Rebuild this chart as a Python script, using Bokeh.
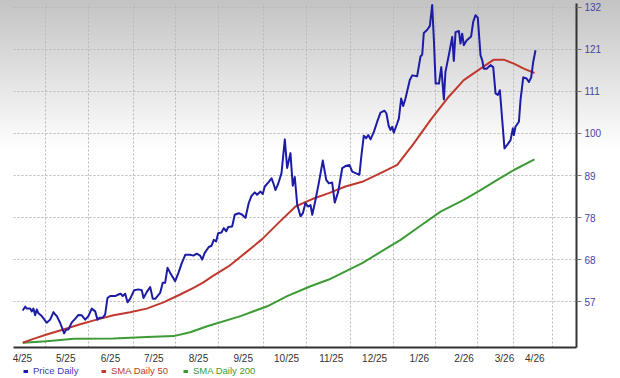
from bokeh.plotting import figure
from bokeh.models import Range1d, FixedTicker, Legend, LegendItem
from bokeh.layouts import column
from bokeh.embed import file_html
from bokeh.resources import INLINE

# ---- data (day offsets from 1 Apr 2025, price in USD) ----
x_tick_days = [0, 30, 61, 91, 122, 153, 183, 214, 244, 275, 306, 334, 355]
x_tick_labels = ["4/25", "5/25", "6/25", "7/25", "8/25", "9/25", "10/25",
                 "11/25", "12/25", "1/26", "2/26", "3/26", "4/26"]
x_grid_days = [16, 46, 77, 106, 136, 167, 197, 227, 257, 286, 315, 340, 367]
y_tick_values = [57.0, 67.7, 78.4, 89.1, 99.8, 110.5, 121.2, 131.9]
y_tick_labels = ["57", "68", "78", "89", "100", "111", "121", "132"]
legend_labels = ["Price Daily", "SMA Daily 50", "SMA Daily 200"]

price_days = [
    0.2, 1.9, 3.0, 5.3, 6.4, 7.6, 8.8, 9.9, 11.1, 13.4,
    16.8, 19.2, 21.5, 22.7, 23.8, 26.1, 28.9, 30.3, 31.9, 34.2,
    36.5, 38.8, 41.1, 43.5, 45.7, 48.0, 50.4, 52.0, 53.4, 55.6,
    57.3, 58.9, 60.8, 64.2, 66.5, 68.1, 69.5, 71.2, 72.8, 74.6,
    77.4, 80.4, 82.7, 83.9, 86.1, 88.5, 90.3, 92.0, 95.4, 97.2,
    98.9, 100.5, 102.4, 105.8, 108.1, 110.4, 112.8, 116.2, 118.5, 120.8,
    123.1, 124.5, 126.3, 129.1, 131.0, 132.6, 134.2, 135.6, 137.9, 139.5,
    141.2, 142.6, 145.3, 147.1, 149.9, 152.3, 154.5, 156.8, 158.7, 161.0,
    162.6, 164.9, 166.5, 167.9, 170.7, 172.6, 173.7, 175.3, 177.2, 179.5,
    181.8, 183.4, 185.7, 187.3, 188.7, 190.4, 192.7, 194.3, 196.1, 198.0,
    199.6, 200.8, 202.6, 205.3, 208.1, 210.5, 212.3, 214.6, 216.4, 218.8,
    221.6, 223.8, 226.6, 228.5, 230.8, 233.5, 234.9, 236.5, 238.2, 239.6,
    241.2, 243.5, 245.8, 248.1, 250.9, 252.2, 253.8, 255.0, 256.2, 257.3,
    259.7, 260.8, 262.4, 263.8, 265.4, 268.4, 270.1, 273.5, 275.8, 277.0,
    278.1, 280.5, 282.3, 283.9, 285.1, 286.3, 288.6, 290.2, 292.0, 293.1,
    295.4, 297.8, 298.9, 300.1, 302.4, 303.5, 304.7, 305.8, 307.7, 309.3,
    310.9, 312.3, 313.9, 315.5, 317.4, 318.6, 319.7, 321.6, 324.3, 326.2,
    327.8, 329.4, 330.8, 334.0, 335.9, 338.2, 339.8, 340.5, 341.6, 344.0,
    345.1, 347.0, 349.3, 350.9, 352.5, 353.9, 355.5,
]
price_values = [
    54.7, 55.7, 55.2, 55.2, 54.5, 55.2, 53.5, 55.0, 54.0, 53.3,
    51.6, 52.4, 54.3, 53.7, 53.3, 51.6, 48.9, 49.9, 49.9, 51.7,
    52.6, 53.6, 53.5, 52.4, 53.3, 55.2, 54.5, 52.4, 52.9, 52.9,
    53.7, 57.9, 58.4, 58.4, 58.8, 59.0, 58.4, 59.0, 56.8, 57.7,
    59.9, 60.1, 59.9, 57.9, 59.4, 60.7, 57.7, 57.7, 59.2, 61.8,
    61.8, 65.6, 64.3, 62.2, 64.3, 66.8, 68.9, 68.9, 68.7, 69.2,
    68.7, 67.7, 69.4, 70.9, 71.2, 72.7, 72.3, 74.4, 74.6, 75.7,
    74.9, 76.0, 76.1, 79.1, 79.5, 79.1, 78.3, 82.1, 83.9, 84.8,
    84.2, 85.0, 84.4, 86.3, 87.5, 88.4, 87.3, 85.4, 87.0, 89.7,
    98.3, 91.0, 94.8, 86.5, 88.7, 81.6, 78.7, 79.5, 82.1, 81.2,
    81.6, 79.1, 82.1, 87.1, 92.9, 88.0, 87.1, 87.3, 82.2, 85.0,
    91.0, 91.5, 91.8, 90.1, 89.7, 89.3, 94.3, 99.2, 98.6, 99.4,
    98.3, 100.2, 102.8, 105.1, 105.6, 104.9, 101.7, 100.7, 101.5, 100.0,
    102.4, 103.6, 108.7, 106.8, 108.7, 113.4, 114.6, 114.4, 119.4, 119.9,
    125.4, 126.2, 127.2, 132.5, 123.5, 112.5, 112.5, 116.7, 108.5, 115.5,
    119.7, 124.4, 118.3, 125.6, 125.9, 122.7, 125.2, 122.3, 123.5, 124.0,
    124.5, 128.2, 129.9, 129.3, 119.7, 118.4, 116.3, 116.3, 117.2, 116.7,
    110.0, 109.6, 110.8, 96.0, 96.9, 98.1, 101.1, 99.4, 101.5, 102.8,
    108.3, 114.1, 113.8, 112.9, 114.1, 118.0, 121.0,
]

sma50_days = [0.2, 7.6, 16.8, 28.4, 40.0, 51.5, 63.1, 74.6, 86.1, 97.7,
              109.3, 118.5, 125.4, 131.5, 143.0, 154.5, 166.1, 177.6, 189.2, 200.8,
              212.3, 223.8, 235.4, 248.1, 259.7, 271.2, 282.7, 294.3, 305.8, 317.4,
              326.6, 333.5, 340.5, 347.4, 354.8]
sma50_values = [46.5, 47.5, 48.6, 49.9, 51.2, 52.4, 53.5, 54.3, 55.2, 56.8,
                58.8, 60.5, 61.9, 63.4, 66.0, 69.4, 72.9, 77.1, 81.2, 83.1,
                84.6, 86.3, 87.5, 89.7, 91.8, 97.3, 103.2, 108.7, 113.4, 116.3,
                118.6, 118.6, 117.6, 116.3, 115.2]

sma200_days = [0.2, 16.8, 35.6, 63.1, 86.1, 104.9, 116.2, 128.0, 151.1, 169.6,
               183.4, 199.6, 212.3, 235.4, 251.6, 262.0, 275.8, 289.7, 305.8, 317.4,
               329.0, 340.5, 354.8]
sma200_values = [46.5, 46.9, 47.5, 47.6, 48.0, 48.2, 49.2, 50.7, 53.3, 55.8,
                 58.4, 60.9, 62.6, 66.8, 70.4, 72.7, 76.3, 79.9, 82.9, 85.4,
                 88.0, 90.5, 93.2]

# ---- styling ----
FONT = "Liberation Sans"
BLUE = "#1c1ca6"
RED = "#c0392e"
GREEN = "#3d9b35"

p = figure(width=620, height=366, output_backend="svg", toolbar_location=None,
           x_range=Range1d(-6.2, 383.9), y_range=Range1d(45.3, 132.9),
           y_axis_location="right",
           min_border_left=13, min_border_right=44,
           min_border_top=3, min_border_bottom=18)
p.border_fill_color = None
p.background_fill_color = None
p.outline_line_color = None
p.styles = {
    "background": "linear-gradient(180deg, #c3c3c3 0px, #ffffff 150px, #ffffff 366px)",
}

# grid
p.xgrid.ticker = FixedTicker(ticks=x_grid_days)
p.grid.grid_line_color = "#b8b8b8"
p.grid.grid_line_dash = "2 2"
p.grid.grid_line_width = 1

# x axis
p.xaxis.ticker = FixedTicker(ticks=x_tick_days)
p.xaxis.major_label_overrides = dict(zip(x_tick_days, x_tick_labels))
p.xaxis.axis_line_color = "#333333"
p.xaxis.axis_line_width = 2
p.xaxis.major_tick_line_color = None
p.xaxis.minor_tick_line_color = None
p.xaxis.major_tick_out = 0
p.xaxis.major_label_standoff = 5
p.xaxis.major_label_text_font = FONT
p.xaxis.major_label_text_font_size = "10px"
p.xaxis.major_label_text_color = "#333333"

# y axis (right)
p.yaxis.ticker = FixedTicker(ticks=y_tick_values)
p.yaxis.major_label_overrides = dict(zip(y_tick_values, y_tick_labels))
p.yaxis.axis_line_color = "#333333"
p.yaxis.axis_line_width = 2
p.yaxis.major_tick_line_color = "#777777"
p.yaxis.major_tick_in = 0
p.yaxis.major_tick_out = 5
p.yaxis.minor_tick_line_color = None
p.yaxis.major_label_standoff = 3
p.yaxis.major_label_text_font = FONT
p.yaxis.major_label_text_font_size = "10px"
p.yaxis.major_label_text_color = "#4444aa"

# lines
p.line(sma200_days, sma200_values, line_color=GREEN, line_width=2, line_join="round")
p.line(sma50_days, sma50_values, line_color=RED, line_width=2, line_join="round")
p.line(price_days, price_values, line_color=BLUE, line_width=2, line_join="round")

# ---- legend strip below the chart ----
p2 = figure(width=620, height=12, output_backend="svg", toolbar_location=None,
            x_axis_type=None, y_axis_type=None, min_border=0,
            x_range=Range1d(0, 1), y_range=Range1d(0, 1))
p2.grid.visible = False
p2.outline_line_color = None
p2.border_fill_color = None
p2.background_fill_color = None

# single-point proxies (a one-point line draws nothing, but gives the legend a swatch)
proxy_days = [price_days[:1], sma50_days[:1], sma200_days[:1]]
proxy_vals = [price_values[:1], sma50_values[:1], sma200_values[:1]]
legend_colors = [BLUE, RED, GREEN]
legend_text_colors = ["#3a3ab4", "#c0392e", "#3d9b35"]
legend_x = [10, 88, 170]
for label, lc, tc, xloc, px, pv in zip(legend_labels, legend_colors, legend_text_colors,
                                       legend_x, proxy_days, proxy_vals):
    proxy = p2.line(px, pv, line_color=lc, line_width=3)
    leg = Legend(items=[LegendItem(label=label, renderers=[proxy])],
                 location=(xloc, 2), orientation="horizontal",
                 padding=0, margin=0, spacing=0,
                 glyph_width=5, glyph_height=10, label_height=10,
                 label_standoff=5, label_text_font=FONT,
                 label_text_font_size="9.5px", label_text_color=tc,
                 background_fill_alpha=0, border_line_alpha=0)
    p2.add_layout(leg)

layout = column(p, p2, spacing=0)
open("out.html", "w").write(file_html(layout, INLINE))
